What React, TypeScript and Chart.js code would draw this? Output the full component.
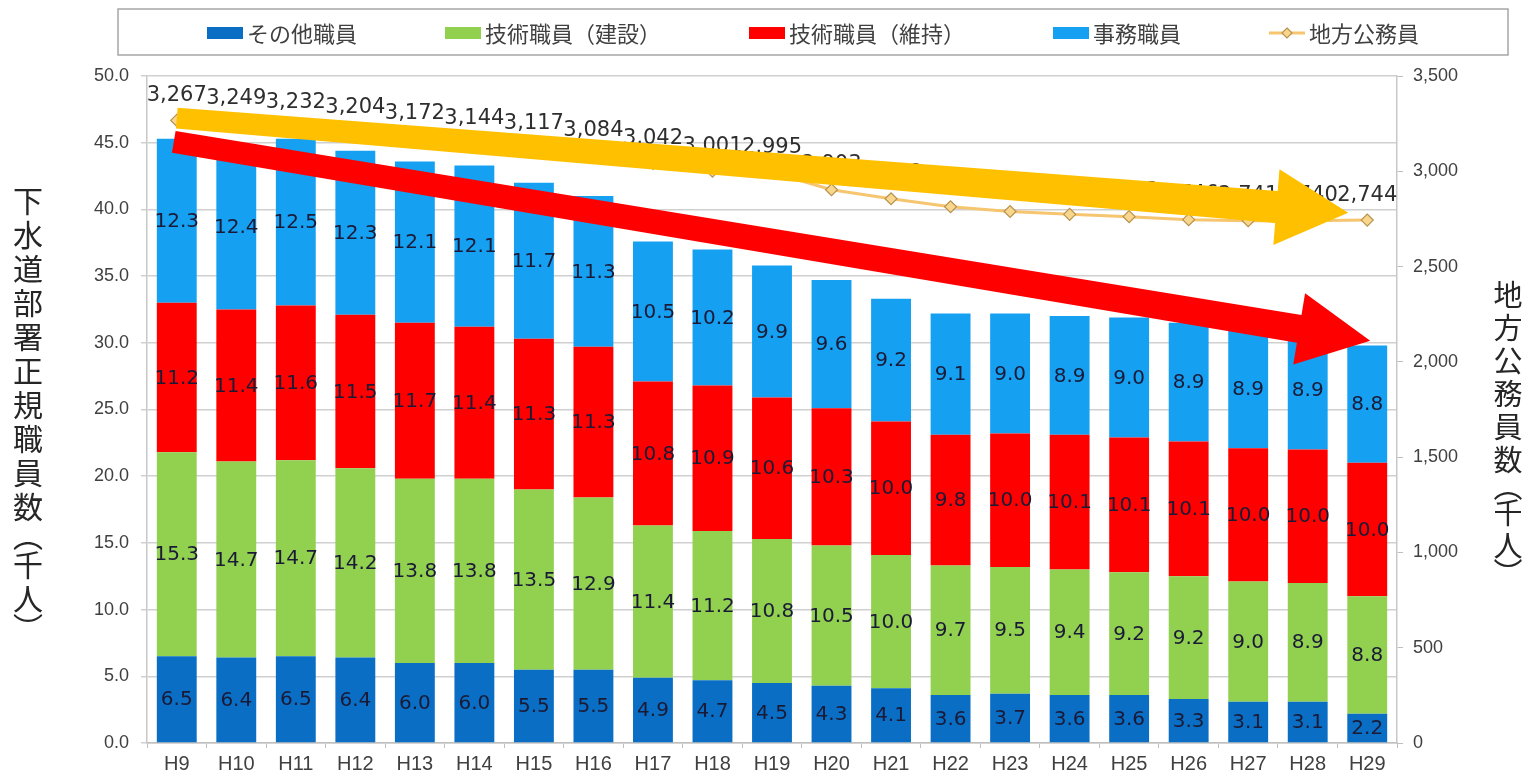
import { useEffect, useRef } from 'react';
import { Chart, registerables } from 'chart.js';

Chart.register(...registerables);

// ---- data ----
const categories = ['H9', 'H10', 'H11', 'H12', 'H13', 'H14', 'H15', 'H16', 'H17', 'H18', 'H19', 'H20', 'H21', 'H22', 'H23', 'H24', 'H25', 'H26', 'H27', 'H28', 'H29'];
const otherStaff = [6.5, 6.4, 6.5, 6.4, 6.0, 6.0, 5.5, 5.5, 4.9, 4.7, 4.5, 4.3, 4.1, 3.6, 3.7, 3.6, 3.6, 3.3, 3.1, 3.1, 2.2];
const techConstruction = [15.3, 14.7, 14.7, 14.2, 13.8, 13.8, 13.5, 12.9, 11.4, 11.2, 10.8, 10.5, 10.0, 9.7, 9.5, 9.4, 9.2, 9.2, 9.0, 8.9, 8.8];
const techMaintenance = [11.2, 11.4, 11.6, 11.5, 11.7, 11.4, 11.3, 11.3, 10.8, 10.9, 10.6, 10.3, 10.0, 9.8, 10.0, 10.1, 10.1, 10.1, 10.0, 10.0, 10.0];
const officeStaff = [12.3, 12.4, 12.5, 12.3, 12.1, 12.1, 11.7, 11.3, 10.5, 10.2, 9.9, 9.6, 9.2, 9.1, 9.0, 8.9, 9.0, 8.9, 8.9, 8.9, 8.8];
const localGovStaff = [3267, 3249, 3232, 3204, 3172, 3144, 3117, 3084, 3042, 3001, 2995, 2903, 2856, 2814, 2789, 2774, 2762, 2746, 2741, 2740, 2744];

const seriesLabels = ['その他職員', '技術職員（建設）', '技術職員（維持）', '事務職員', '地方公務員'];
const leftTitle = '下水道部署正規職員数︵千人︶';
const rightTitle = '地方公務員数︵千人︶';
const leftTicks = { min: 0, max: 50, step: 5 };
const rightTicks = { min: 0, max: 3500, step: 500 };

// trend arrows (annotation, in data units: [category index, value])
const trendArrows = [
  { axis: 'y1', from: [0, 3279], to: [19.68, 2782], color: '#FFC000', w0: 21, w1: 32, headLen: 72, headW: 76 },
  { axis: 'y', from: [-0.05, 45.06], to: [20.05, 30.16], color: '#FF0000', w0: 22, w1: 28, headLen: 72, headW: 72 },
];

const CJK = "'Noto Sans CJK JP', 'Noto Sans', sans-serif";
const NUM = "'DejaVu Sans', Verdana, sans-serif";
const AX = "'Liberation Sans', Arial, sans-serif";

function drawArrow(ctx: CanvasRenderingContext2D, x0: number, y0: number, x1: number, y1: number, a: any) {
  const dx = x1 - x0, dy = y1 - y0;
  const len = Math.hypot(dx, dy);
  const ux = dx / len, uy = dy / len;
  const px = -uy, py = ux;
  const bx = x1 - ux * a.headLen, by = y1 - uy * a.headLen;
  ctx.save();
  ctx.fillStyle = a.color;
  ctx.beginPath();
  ctx.moveTo(x0 + px * a.w0 / 2, y0 + py * a.w0 / 2);
  ctx.lineTo(bx + px * a.w1 / 2, by + py * a.w1 / 2);
  ctx.lineTo(bx + px * a.headW / 2, by + py * a.headW / 2);
  ctx.lineTo(x1, y1);
  ctx.lineTo(bx - px * a.headW / 2, by - py * a.headW / 2);
  ctx.lineTo(bx - px * a.w1 / 2, by - py * a.w1 / 2);
  ctx.lineTo(x0 - px * a.w0 / 2, y0 - py * a.w0 / 2);
  ctx.closePath();
  ctx.fill();
  ctx.restore();
}

function drawVertical(ctx: CanvasRenderingContext2D, text: string, cx: number, cy: number, size: number, pitch: number, parenPitch: number) {
  const chars = Array.from(text);
  const pitches = chars.map((c) => (c === '︵' || c === '︶' ? parenPitch : pitch));
  const total = pitches.reduce((s, p) => s + p, 0);
  let y = cy - total / 2;
  ctx.save();
  ctx.font = `${size}px ${CJK}`;
  ctx.fillStyle = '#262626';
  ctx.textAlign = 'center';
  ctx.textBaseline = 'middle';
  chars.forEach((c, i) => {
    ctx.fillText(c, cx, y + pitches[i] / 2);
    y += pitches[i];
  });
  ctx.restore();
}

const labelPlugin = {
  id: 'valueLabels',
  afterDatasetsDraw(chart: any) {
    const ctx = chart.ctx as CanvasRenderingContext2D;
    ctx.save();
    ctx.textAlign = 'center';
    ctx.textBaseline = 'middle';
    chart.data.datasets.forEach((ds: any, i: number) => {
      const meta = chart.getDatasetMeta(i);
      meta.data.forEach((el: any, j: number) => {
        const v = ds.data[j];
        if (ds.type === 'line') {
          ctx.font = `21px ${NUM}`;
          ctx.fillStyle = '#2e2e2e';
          ctx.fillText(v.toLocaleString('en-US'), el.x, el.y - 25);
        } else {
          const p = el.getProps(['x', 'y', 'base'], true);
          ctx.font = `20px ${NUM}`;
          ctx.fillStyle = '#1a1a36';
          ctx.fillText(v.toFixed(1), p.x, (p.y + p.base) / 2 + 1);
        }
      });
    });
    ctx.restore();
  },
};

const decorPlugin = {
  id: 'decor',
  afterDraw(chart: any) {
    const ctx = chart.ctx as CanvasRenderingContext2D;
    const xs = chart.scales.x;
    // arrows
    trendArrows.forEach((a) => {
      const ys = chart.scales[a.axis];
      drawArrow(ctx, xs.getPixelForValue(a.from[0]), ys.getPixelForValue(a.from[1]), xs.getPixelForValue(a.to[0]), ys.getPixelForValue(a.to[1]), a);
    });
    // axis titles
    const area = chart.chartArea;
    const midY = (area.top + area.bottom) / 2;
    drawVertical(ctx, leftTitle, 20, midY + 2, 30, 34, 24);
    drawVertical(ctx, rightTitle, chart.width - 20, midY + 21, 29, 33, 20);
    // legend box
    ctx.save();
    ctx.strokeStyle = '#a6a6a6';
    ctx.lineWidth = 1.5;
    ctx.strokeRect(110, 1, 1390, 46);
    ctx.font = `22px ${CJK}`;
    ctx.textBaseline = 'middle';
    ctx.textAlign = 'left';
    const items = chart.data.datasets.map((ds: any) => ({ ds, tw: ctx.measureText(ds.label).width }));
    const boxW = 36, gapT = 4, gap = 88;
    const total = items.reduce((s: number, it: any) => s + boxW + gapT + it.tw, 0) + gap * (items.length - 1);
    let x = 805 - total / 2;
    const cy = 25;
    items.forEach((it: any) => {
      const ds = it.ds;
      if (ds.type === 'line') {
        ctx.strokeStyle = ds.borderColor;
        ctx.lineWidth = 3;
        ctx.beginPath();
        ctx.moveTo(x, cy);
        ctx.lineTo(x + boxW, cy);
        ctx.stroke();
        ctx.fillStyle = ds.pointBackgroundColor;
        ctx.strokeStyle = ds.pointBorderColor;
        ctx.lineWidth = 1.2;
        ctx.beginPath();
        const cx = x + boxW / 2, r = 5;
        ctx.moveTo(cx, cy - r);
        ctx.lineTo(cx + r, cy);
        ctx.lineTo(cx, cy + r);
        ctx.lineTo(cx - r, cy);
        ctx.closePath();
        ctx.fill();
        ctx.stroke();
      } else {
        ctx.fillStyle = ds.backgroundColor;
        ctx.fillRect(x, cy - 6, boxW, 12);
      }
      ctx.fillStyle = '#404040';
      ctx.fillText(ds.label, x + boxW + gapT, cy + 1);
      x += boxW + gapT + it.tw + gap;
    });
    ctx.restore();
  },
};

export default function App() {
  const ref = useRef<HTMLCanvasElement | null>(null);
  useEffect(() => {
    if (!ref.current) return;
    const barDs = (label: string, data: number[], color: string) => ({
      type: 'bar' as const,
      label,
      data,
      backgroundColor: color,
      borderWidth: 0,
      stack: 's',
      yAxisID: 'y',
      order: 1,
      barPercentage: 0.67,
      categoryPercentage: 1,
    });
    const chart = new Chart(ref.current, {
      data: {
        labels: categories,
        datasets: [
          barDs(seriesLabels[0], otherStaff, '#0A6FC4'),
          barDs(seriesLabels[1], techConstruction, '#92D050'),
          barDs(seriesLabels[2], techMaintenance, '#FF0000'),
          barDs(seriesLabels[3], officeStaff, '#15A0F2'),
          {
            type: 'line' as const,
            label: seriesLabels[4],
            data: localGovStaff,
            yAxisID: 'y1',
            order: 0,
            borderColor: '#F6C56F',
            borderWidth: 3,
            pointStyle: 'rectRot',
            pointRadius: 6,
            pointBackgroundColor: '#F8D68E',
            pointBorderColor: '#B8924C',
            pointBorderWidth: 1.2,
            tension: 0,
          } as any,
        ],
      },
      options: {
        animation: false,
        responsive: true,
        maintainAspectRatio: false,
        layout: { padding: { top: 68, left: 0, right: 0, bottom: 0 } },
        plugins: { legend: { display: false }, tooltip: { enabled: false } },
        scales: {
          x: {
            type: 'category',
            stacked: true,
            offset: true,
            grid: { display: true, drawOnChartArea: false, offset: true, tickLength: 5, color: '#bfbfbf' },
            border: { color: '#bfbfbf', width: 1.5 },
            ticks: { font: { family: AX, size: 20 }, color: '#404040', padding: 4, maxRotation: 0, autoSkip: false },
            afterFit: (s: any) => { s.height = 30; },
          },
          y: {
            stacked: true,
            min: leftTicks.min,
            max: leftTicks.max,
            ticks: { stepSize: leftTicks.step, callback: (v: any) => Number(v).toFixed(1), font: { family: AX, size: 18 }, color: '#404040', padding: 12 },
            grid: { color: '#d0d0d0', lineWidth: 1.5, tickLength: 6 },
            border: { color: '#c8c8c8', width: 1.5 },
            afterFit: (s: any) => { s.width = 139; },
          },
          y1: {
            position: 'right',
            min: rightTicks.min,
            max: rightTicks.max,
            ticks: { stepSize: rightTicks.step, callback: (v: any) => Number(v).toLocaleString('en-US'), font: { family: AX, size: 18 }, color: '#404040', padding: 10 },
            grid: { drawOnChartArea: false, color: '#bfbfbf', tickLength: 6 },
            border: { color: '#c8c8c8', width: 1.5 },
            afterFit: (s: any) => { s.width = 131; },
          },
        },
      },
      plugins: [labelPlugin, decorPlugin],
    } as any);
    return () => chart.destroy();
  }, []);
  return (
    <div style={{ width: 1520, height: 765, position: 'relative' }}>
      <canvas ref={ref} />
    </div>
  );
}
